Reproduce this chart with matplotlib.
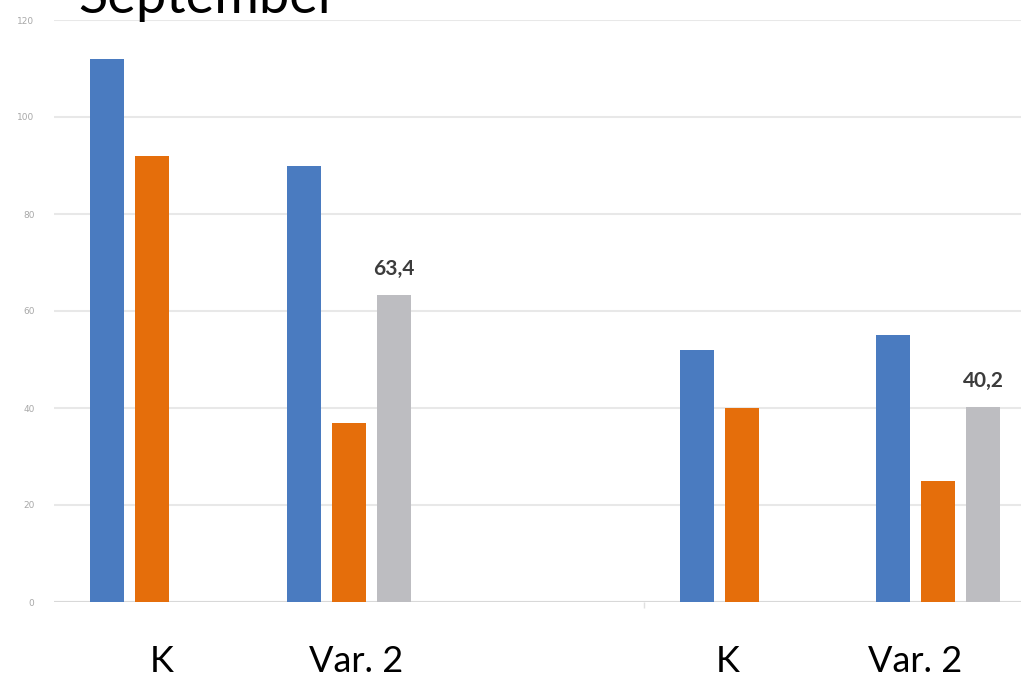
import numpy as np
import matplotlib
matplotlib.use("Agg")
import matplotlib.pyplot as plt

# ---- data ----
categories = ["K", "Var. 2", "", "K", "Var. 2"]
series_blue = [112, 90, np.nan, 52, 55]
series_orange = [92, 37, np.nan, 40, 25]
series_gray = [np.nan, 63.4, np.nan, np.nan, 40.2]
gray_labels = ["", "63,4", "", "", "40,2"]
y_ticks = [0, 20, 40, 60, 80, 100, 120]
title = "September"

# ---- figure ----
W, H = 1021, 676
fig = plt.figure(figsize=(W / 100, H / 100), dpi=100)
fig.patch.set_facecolor("white")

left_px, right_px = 54, 54 + 5 * 196.5
bottom_px, top_px = 602, 20
ax = fig.add_axes([left_px / W, 1 - bottom_px / H,
                   (right_px - left_px) / W, (bottom_px - top_px) / H])
ax.set_facecolor("white")

x = np.arange(len(categories))
bw = 34 / 196.5
step = 45 / 196.5
c_blue, c_orange, c_gray = "#4a7bc0", "#e56e0b", "#bdbdc1"
ax.bar(x - step, series_blue, width=bw, color=c_blue, zorder=3)
ax.bar(x, series_orange, width=bw, color=c_orange, zorder=3)
ax.bar(x + step, series_gray, width=bw, color=c_gray, zorder=3)

for xi, v, lab in zip(x, series_gray, gray_labels):
    if lab and not np.isnan(v):
        ax.annotate(lab, (xi + step, v), xytext=(0, 11.5), textcoords="offset points",
                    ha="center", va="bottom", fontsize=15, fontweight="bold",
                    color="#3c3c3c", family=["Lato", "DejaVu Sans"])

ax.set_xlim(-0.5, len(categories) - 0.5)
ax.set_ylim(0, 120)
ax.set_yticks(y_ticks)
ax.set_yticklabels([str(t) for t in y_ticks], fontsize=6.5, color="#a8a8a8")
ax.tick_params(axis="y", length=0, pad=14)
ax.yaxis.grid(True, color="#e8e8e8", linewidth=1.5, zorder=0)
ax.set_axisbelow(True)
for s in ["top", "right", "left", "bottom"]:
    ax.spines[s].set_visible(False)
ax.axhline(0, color="#d8d8d8", linewidth=1.5, zorder=1)

ax.set_xticks([2.5])
ax.set_xticklabels([""])
ax.tick_params(axis="x", length=4, color="#e0e0e0", width=1)

# category labels (overlaid text), baseline at ~672 px
label_offsets = [0.05, 0.04, 0.0, -0.07, -0.12]
label_y = -(672 - bottom_px) / (bottom_px - top_px)
for xi, lab, off in zip(x, categories, label_offsets):
    if lab:
        ax.text(xi + off, label_y, lab, transform=ax.get_xaxis_transform(),
                ha="center", va="baseline", fontsize=26, color="#000000",
                family=["Lato", "DejaVu Sans"])

fig.text(78 / W, 1 - 13 / H, title, ha="left", va="baseline",
         fontsize=39, color="#000000", family=["Lato", "DejaVu Sans"])

fig.savefig("out.png", dpi=100, facecolor="white")
